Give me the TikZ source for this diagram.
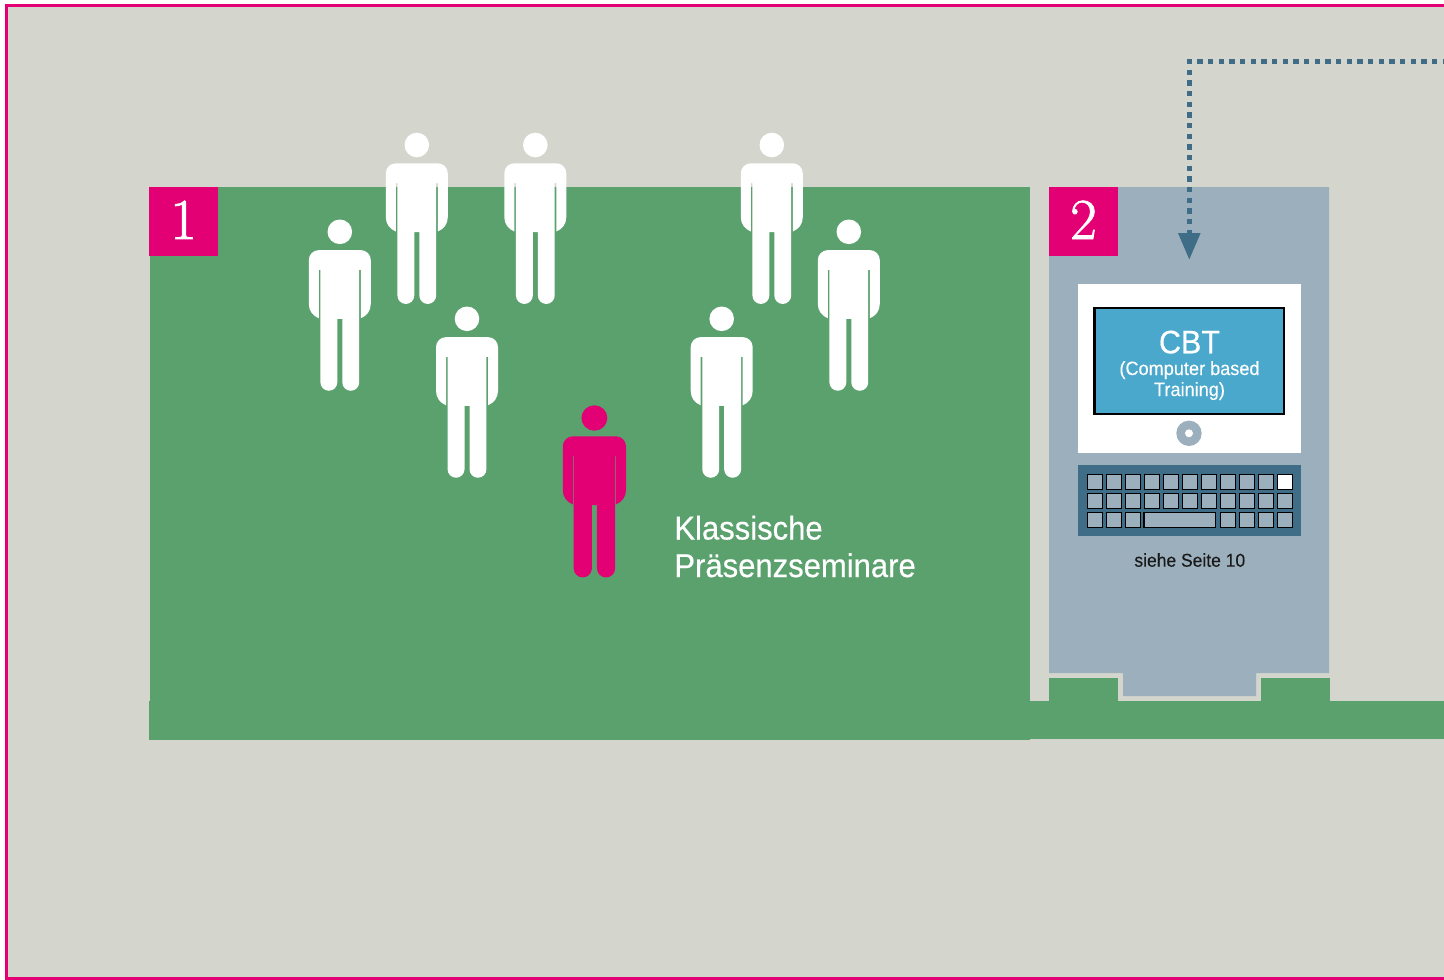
\documentclass[tikz,border=0pt]{standalone}
\usepackage{fontspec}
\usetikzlibrary{arrows.meta}
\newfontfamily\tele[FakeStretch=0.94,FakeBold=0.45]{Liberation Sans}
\newfontfamily\telethin[FakeStretch=0.94,FakeBold=0.2]{Liberation Sans}
\newfontfamily\numfont[FakeBold=1.4]{Latin Modern Roman}
\definecolor{magt}{HTML}{E20074}
\definecolor{paper}{HTML}{D4D5CC}
\definecolor{leaf}{HTML}{5BA16E}
\definecolor{slate}{HTML}{9CAFBD}
\definecolor{deep}{HTML}{3F6C86}
\definecolor{screenblue}{HTML}{49A8CC}
\tikzset{
  numbox/.style={fill=magt,minimum width=69pt,minimum height=69pt,inner sep=0pt,outer sep=0pt,anchor=north west},
  numeral/.style={text=white,inner sep=0pt,anchor=base,font=\numfont\fontsize{58}{58}\selectfont},
  keycap/.style={draw=black,line width=1.2pt,fill=slate,inner sep=0pt,minimum height=14.8pt,anchor=north west},
  labeltext/.style={inner sep=0pt,text=white,font=\tele},
}
% #1 head x, #2 head y, #3 colour and scale, #4 outer leg offset, #5 head radius
\newcommand{\figureman}[5]{%
  \begin{scope}[shift={(#1,#2)},#3]
  \fill (0,0) circle[radius=#5];
  \fill
    (-21,86.5) .. controls (-27,84) and (-31,79) .. (-31,72)
    -- (-31,28.3) arc[start angle=180,end angle=270,radius=10]
    -- (21,18.3) arc[start angle=270,end angle=360,radius=10]
    -- (31,72) .. controls (31,79) and (27,84) .. (21,86.5)
    -- (21,38) -- (#4,38) -- (#4,150.5)
    arc[start angle=0,end angle=180,radius={(#4-2.5)/2}]
    -- (2.5,87) -- (-2.5,87) -- (-2.5,150.5)
    arc[start angle=0,end angle=180,radius={(#4-2.5)/2}]
    -- (-#4,38) -- (-21,38) -- cycle;
  \end{scope}
}
\begin{document}
\begin{tikzpicture}[x=1pt,y=-1pt,line join=miter]
\useasboundingbox (0,0) rectangle (1444,980);
\clip (0,0) rectangle (1444,980);
\fill[white] (0,0) rectangle (1444,980);
\fill[paper] (6.5,5.5) rectangle (1450,978.5);
\draw[magt,line width=2.6pt] (1450,5.3) -- (6.6,5.3) -- (6.6,978.7) -- (1450,978.7);
% green field and base strip
\fill[leaf] (150,187) rectangle (1030,740);
\fill[leaf] (149,701) rectangle (1030,740);
\fill[leaf] (1030,701) rectangle (1444,739);
% panel 2 with tabs
\fill[leaf] (1049,678) rectangle (1118,701);
\fill[leaf] (1261,678) rectangle (1330,701);
\fill[slate] (1049,187) -- (1329,187) -- (1329,673) -- (1256,673) -- (1256,696) -- (1123,696) -- (1123,673) -- (1049,673) -- cycle;
% people
\figureman{416.8}{145}{white}{19.4}{12.3}
\figureman{535.3}{145}{white}{19.4}{12.3}
\figureman{771.8}{145}{white}{19.4}{12.3}
\figureman{339.8}{231.8}{white}{19.4}{12.3}
\figureman{848.8}{231.8}{white}{19.4}{12.3}
\figureman{467}{318.8}{white}{19.4}{12.3}
\figureman{721.7}{318.8}{white}{19.4}{12.3}
\figureman{594.4}{418}{magt,xscale=1.02}{20.3}{12.7}
% number boxes
\node[numbox] (boxone) at (149,187) {};
\node[numbox] (boxtwo) at (1049,187) {};
\node[numeral] (one) at (183.5,239) {1};
\node[numeral] (two) at (1083.5,239) {2};
% monitor
\fill[white] (1078.3,284) rectangle (1300.6,453);
\draw[line width=2.6pt,fill=screenblue] (1094.6,308) rectangle (1284,414);
\fill[slate] (1189,433.3) circle[radius=12.7];
\fill[white] (1189,433.3) circle[radius=4];
\node[labeltext,anchor=base,font=\tele\fontsize{32.5}{32.5}\selectfont] (cbt) at (1189.5,353.3) {CBT};
\node[labeltext,anchor=base,font=\telethin\fontsize{19.3}{19.3}\selectfont] (cbta) at (1189.5,375) {(Computer based};
\node[labeltext,anchor=base,font=\telethin\fontsize{19.3}{19.3}\selectfont] (cbtb) at (1189.5,396) {Training)};
% keyboard
\fill[deep] (1078.3,465.3) rectangle (1300.6,536.3);
\foreach \c in {0,...,10}{
  \pgfmathsetmacro{\kx}{1086.7+19*\c}
  \ifnum\c=10
    \node[keycap,minimum width=14.8pt,fill=white] (ka\c) at (\kx,474) {};
  \else
    \node[keycap,minimum width=14.8pt] (ka\c) at (\kx,474) {};
  \fi
  \node[keycap,minimum width=14.8pt] (kb\c) at (\kx,493) {};
}
\foreach \c in {0,1,2,7,8,9,10}{
  \pgfmathsetmacro{\kx}{1086.7+19*\c}
  \node[keycap,minimum width=14.8pt] (kc\c) at (\kx,512) {};
}
\node[keycap,minimum width=71.5pt] (space) at (1143.4,512) {};
\node[inner sep=0pt,anchor=base,text=black!90,font=\telethin\fontsize{18.6}{18.6}\selectfont] (page) at (1189.8,566.7) {siehe Seite 10};
% label
\node[labeltext,anchor=base west,font=\tele\fontsize{33}{33}\selectfont] (la) at (674.2,539.5) {Klassische};
\node[labeltext,anchor=base west,font=\tele\fontsize{33}{33}\selectfont] (lb) at (674.2,577) {Präsenzseminare};
% dotted arrow
\coordinate (from) at (1445.3,61.7);
\coordinate (corner) at (1189.3,61.7);
\coordinate (tip) at (1189.3,260);
\draw[deep,line width=5.4pt,dash pattern=on 5.4pt off 5.267pt,dash phase=2.7pt,-{Triangle[width=21pt,length=27pt]}] (from) -- (corner) -- (tip);
\end{tikzpicture}
\end{document}
